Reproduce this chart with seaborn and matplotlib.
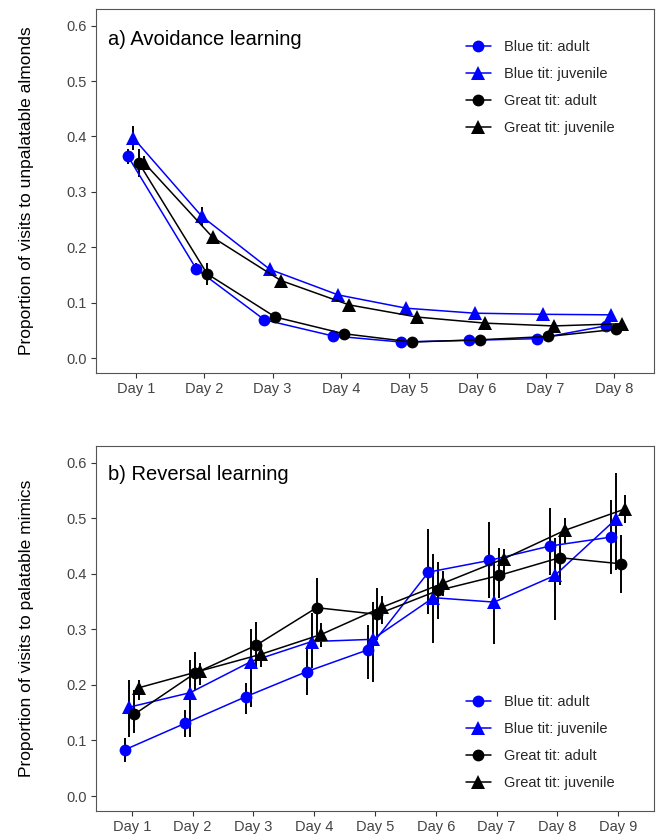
import numpy as np
import matplotlib.pyplot as plt
import seaborn as sns

sns.set_style("ticks")
plt.rcParams['font.family'] = ['Liberation Sans', 'DejaVu Sans']

# groups shown in both panels
groups = ["Blue tit: adult", "Blue tit: juvenile", "Great tit: adult", "Great tit: juvenile"]

# a) Avoidance learning - proportion of visits to unpalatable almonds
days_a = ["Day 1", "Day 2", "Day 3", "Day 4", "Day 5", "Day 6", "Day 7", "Day 8"]
blue_adult_a = [0.364, 0.161, 0.069, 0.040, 0.029, 0.032, 0.035, 0.058]
blue_juv_a = [0.397, 0.256, 0.160, 0.114, 0.090, 0.081, 0.079, 0.078]
great_adult_a = [0.352, 0.152, 0.074, 0.044, 0.029, 0.033, 0.039, 0.052]
great_juv_a = [0.352, 0.218, 0.140, 0.096, 0.074, 0.063, 0.058, 0.062]
# half-widths of the error bars
blue_adult_a_err = [0.014, 0.011, 0.004, 0.003, 0.003, 0.003, 0.003, 0.005]
blue_juv_a_err = [0.021, 0.017, 0.006, 0.005, 0.004, 0.004, 0.004, 0.004]
great_adult_a_err = [0.026, 0.020, 0.006, 0.004, 0.003, 0.003, 0.003, 0.004]
great_juv_a_err = [0.012, 0.008, 0.005, 0.004, 0.003, 0.003, 0.003, 0.004]

# b) Reversal learning - proportion of visits to palatable mimics
days_b = ["Day 1", "Day 2", "Day 3", "Day 4", "Day 5", "Day 6", "Day 7", "Day 8", "Day 9"]
blue_adult_b = [0.083, 0.131, 0.179, 0.224, 0.263, 0.403, 0.424, 0.450, 0.466]
blue_juv_b = [0.160, 0.186, 0.242, 0.278, 0.282, 0.357, 0.349, 0.397, 0.498]
great_adult_b = [0.147, 0.221, 0.271, 0.339, 0.327, 0.370, 0.397, 0.429, 0.418]
great_juv_b = [0.195, 0.225, 0.255, 0.291, 0.340, 0.383, 0.427, 0.478, 0.517]
blue_adult_b_lo = [0.062, 0.107, 0.147, 0.182, 0.210, 0.328, 0.356, 0.397, 0.399]
blue_adult_b_hi = [0.104, 0.155, 0.203, 0.266, 0.307, 0.480, 0.493, 0.518, 0.533]
blue_juv_b_lo = [0.107, 0.107, 0.160, 0.230, 0.205, 0.276, 0.273, 0.317, 0.406]
blue_juv_b_hi = [0.209, 0.245, 0.300, 0.330, 0.350, 0.435, 0.425, 0.465, 0.582]
great_adult_b_lo = [0.113, 0.190, 0.233, 0.290, 0.280, 0.318, 0.356, 0.380, 0.366]
great_adult_b_hi = [0.190, 0.260, 0.313, 0.392, 0.375, 0.421, 0.446, 0.470, 0.470]
great_juv_b_lo = [0.173, 0.200, 0.233, 0.268, 0.310, 0.360, 0.400, 0.455, 0.491]
great_juv_b_hi = [0.209, 0.240, 0.270, 0.311, 0.360, 0.405, 0.445, 0.500, 0.541]

colors = ["#0000FF", "#0000FF", "black", "black"]
markers = ["o", "^", "o", "^"]
msizes = [8.5, 10, 8.5, 10]
offsets = [-0.12, -0.04, 0.04, 0.12]


def draw_panel(ax, days, means, lows, highs, title, ylabel, legend_y):
    n = len(days)
    for i, g in enumerate(groups):
        x = np.arange(1, n + 1) + offsets[i]
        ax.vlines(x, lows[i], highs[i], color="black", linewidth=1.4, zorder=2)
        sns.lineplot(x=x, y=means[i], color=colors[i], marker=markers[i],
                     markersize=msizes[i], markeredgewidth=0, linewidth=1.1,
                     label=g, ax=ax, zorder=3)
    ax.set_xlim(0.41, n + 0.59)
    ax.set_ylim(-0.027, 0.63)
    ax.set_xticks(np.arange(1, n + 1))
    ax.set_xticklabels(days)
    ax.set_yticks(np.arange(0, 0.61, 0.1))
    ax.set_yticklabels([f"{v:.1f}" for v in np.arange(0, 0.61, 0.1)])
    ax.tick_params(length=3.5, width=0.8, color="#333333", labelcolor="#444444",
                   labelsize=10.5, pad=3)
    for s in ax.spines.values():
        s.set_color("#555555")
        s.set_linewidth(0.8)
    ax.set_xlabel("")
    ax.set_ylabel("")
    ax.text(0.0215, legend_y[1], title, transform=ax.transAxes, fontsize=14.5,
            va="center", ha="left", color="black")
    ax.legend(loc="upper left", bbox_to_anchor=(0.663, legend_y[0]), frameon=False,
              fontsize=10.5, borderaxespad=0, borderpad=0, handlelength=1.7,
              handletextpad=0.9, labelspacing=0.9)
    pos = ax.get_position()
    fig.text(27 / 656, pos.y0 + pos.height / 2, ylabel, rotation=90, ha="center",
             va="center", fontsize=12.5, color="black")


fig = plt.figure(figsize=(6.56, 8.36), dpi=100)
ax1 = fig.add_axes([0.1463, 0.5538, 0.8506, 0.4354])
ax2 = fig.add_axes([0.1463, 0.0299, 0.8506, 0.4366])

means_a = [blue_adult_a, blue_juv_a, great_adult_a, great_juv_a]
errs_a = [blue_adult_a_err, blue_juv_a_err, great_adult_a_err, great_juv_a_err]
lows_a = [np.array(m) - np.array(e) for m, e in zip(means_a, errs_a)]
highs_a = [np.array(m) + np.array(e) for m, e in zip(means_a, errs_a)]
draw_panel(ax1, days_a, means_a, lows_a, highs_a, "a) Avoidance learning",
           "Proportion of visits to unpalatable almonds", (0.915, 0.915))

means_b = [blue_adult_b, blue_juv_b, great_adult_b, great_juv_b]
lows_b = [blue_adult_b_lo, blue_juv_b_lo, great_adult_b_lo, great_juv_b_lo]
highs_b = [blue_adult_b_hi, blue_juv_b_hi, great_adult_b_hi, great_juv_b_hi]
draw_panel(ax2, days_b, means_b, lows_b, highs_b, "b) Reversal learning",
           "Proportion of visits to palatable mimics", (0.318, 0.921))

fig.savefig("out.png", dpi=100)
